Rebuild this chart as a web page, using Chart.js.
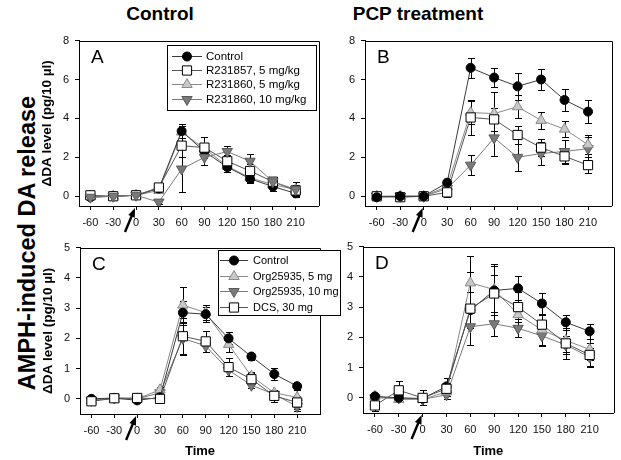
<!DOCTYPE html>
<html>
<head>
<meta charset="utf-8">
<script src="https://cdn.jsdelivr.net/npm/chart.js"></script>
<style>
  body { margin: 0; background: #fff; }
  #fig { position: relative; width: 621px; height: 460px; overflow: hidden; background: #fff;
         font-family: "Liberation Sans", Arial, sans-serif; color: #000; }
  canvas { position: absolute; }
  .head { position: absolute; top: 3px; font-weight: bold; font-size: 19px; line-height: 22px;
          transform: translateX(-50%); white-space: nowrap; }
  #side { position: absolute; left: 27px; top: 243px; font-weight: bold; font-size: 23.5px;
          transform: translate(-50%, -50%) rotate(-90deg); white-space: nowrap; }
</style>
</head>
<body>
<div id="fig">
  <div class="head" style="left:160px">Control</div>
  <div class="head" style="left:418px">PCP treatment</div>
  <div id="side">AMPH-induced DA release</div>
  <canvas id="chartD" width="298" height="226" style="left:323px;top:234px"></canvas>
  <canvas id="chartC" width="305" height="225" style="left:40px;top:235px"></canvas>
  <canvas id="chartA" width="287" height="210" style="left:39px;top:28px"></canvas>
  <canvas id="chartB" width="294" height="210" style="left:325px;top:28px"></canvas>
</div>
<script>
// sampling times (min)
const times = [-60, -30, 0, 30, 60, 90, 120, 150, 180, 210];
const yTicksTop = [0, 2, 4, 6, 8];
const yTicksBottom = [0, 1, 2, 3, 4, 5];

const labelsTop = ["Control", "R231857, 5 mg/kg", "R231860, 5 mg/kg", "R231860, 10 mg/kg"];
const labelsBottom = ["Control", "Org25935, 5 mg", "Org25935, 10 mg", "DCS, 30 mg"];

// panel A - control animals
const aCtrl = [-0.05, 0, 0.05, 0.4, 3.35, 2.3, 1.5, 0.9, 0.5, 0.15];
const aCtrlErr = [0.05, 0.05, 0.05, 0.1, 0.35, 0.2, 0.25, 0.2, 0.25, 0.1];
const aR57 = [0.05, 0, 0.05, 0.45, 2.6, 2.5, 1.8, 1.3, 0.75, 0.3];
const aR57Err = [0.05, 0.05, 0.05, 0.15, 0.6, 0.55, 0.3, 0.35, 0.25, 0.3];
const aR60 = [0, 0, 0.05, 0.3, 3.3, 2.45, 1.55, 0.95, 0.6, 0.35];
const aR60Err = [0.05, 0.05, 0.05, 0.1, 0.3, 0.3, 0.2, 0.2, 0.15, 0.15];
const aR10 = [-0.05, 0, 0.05, -0.3, 1.4, 2.0, 2.3, 1.8, 0.75, 0.35];
const aR10Err = [0.05, 0.05, 0.05, 0.1, 1.2, 0.4, 0.3, 0.35, 0.2, 0.4];

// panel B - PCP treated
const bCtrl = [-0.05, 0, 0, 0.7, 6.6, 6.1, 5.65, 6.0, 4.95, 4.35];
const bCtrlErr = [0.05, 0.05, 0.05, 0.1, 0.5, 0.5, 0.7, 0.55, 0.55, 0.6];
const bR57 = [0, -0.05, 0, 0.2, 4.05, 3.95, 3.15, 2.5, 2.05, 1.6];
const bR57Err = [0.05, 0.05, 0.05, 0.25, 0.9, 0.6, 0.45, 0.45, 0.4, 0.4];
const bR60 = [0, 0, 0, 0.5, 4.3, 4.25, 4.6, 3.9, 3.45, 2.65];
const bR60Err = [0.05, 0.05, 0.05, 0.15, 0.6, 1.1, 0.6, 0.45, 0.4, 0.5];
const bR10 = [0, 0, 0, 0.4, 1.6, 3.0, 2.0, 2.2, 2.3, 2.45];
const bR10Err = [0.05, 0.05, 0.05, 0.15, 0.5, 0.95, 0.7, 0.6, 0.6, 0.6];

// panel C - control animals
const cCtrl = [0, 0.03, -0.05, 0.05, 2.85, 2.8, 2.0, 1.4, 0.82, 0.42];
const cCtrlErr = [0.05, 0.05, 0.05, 0.05, 0.4, 0.25, 0.2, 0.1, 0.2, 0.1];
const cOrg5 = [-0.05, 0, 0, 0.3, 3.1, 2.85, 1.8, 0.75, 0.2, 0.05];
const cOrg5Err = [0.05, 0.05, 0.05, 0.1, 0.6, 0.25, 0.25, 0.15, 0.1, 0.25];
const cOrg10 = [-0.05, 0.03, 0, 0.2, 2.0, 1.75, 0.95, 0.45, 0.15, -0.25];
const cOrg10Err = [0.05, 0.05, 0.05, 0.1, 0.55, 0.2, 0.2, 0.1, 0.1, 0.15];
const cDcs = [-0.08, 0.02, 0.03, 0, 2.07, 1.9, 1.05, 0.65, 0.1, -0.12];
const cDcsErr = [0.05, 0.05, 0.05, 0.05, 0.6, 0.35, 0.3, 0.2, 0.2, 0.2];

// panel D - PCP treated
const dCtrl = [0.05, 0, -0.02, 0.38, 2.9, 3.55, 3.62, 3.12, 2.5, 2.2];
const dCtrlErr = [0.05, 0.05, 0.05, 0.1, 0.6, 0.8, 0.4, 0.35, 0.25, 0.25];
const dOrg5 = [0.05, -0.05, -0.05, 0.2, 3.8, 3.58, 2.75, 2.25, 1.9, 1.6];
const dOrg5Err = [0.05, 0.05, 0.05, 0.15, 0.9, 0.85, 0.4, 0.5, 0.4, 0.35];
const dOrg10 = [0, 0, -0.05, 0.1, 2.35, 2.45, 2.3, 2.05, 1.75, 1.35];
const dOrg10Err = [0.05, 0.05, 0.05, 0.15, 0.6, 0.4, 0.3, 0.35, 0.3, 0.3];
const dDcs = [-0.25, 0.25, 0, 0.3, 2.95, 3.45, 3.0, 2.42, 1.8, 1.42];
const dDcsErr = [0.2, 0.3, 0.25, 0.35, 1.2, 0.6, 0.5, 0.7, 0.5, 0.4];

// marker looks
const looks = {
  circle: { pointStyle: "circle", pointRadius: 4.5, pointBackgroundColor: "#000", pointBorderColor: "#000", borderColor: "#3a3a3a" },
  square: { pointStyle: "rect", pointRadius: 6.5, pointBackgroundColor: "#fff", pointBorderColor: "#000", borderColor: "#555" },
  up: { pointStyle: "triangle", pointRadius: 6, pointBackgroundColor: "#c8c8c8", pointBorderColor: "#8a8a8a", borderColor: "#8a8a8a" },
  down: { pointStyle: "triangle", pointRotation: 180, pointRadius: 6, pointBackgroundColor: "#7a7a7a", pointBorderColor: "#5a5a5a", borderColor: "#7a7a7a" }
};

function series(label, vals, errs, look, order) {
  return Object.assign({
    label: label,
    data: times.map((t, i) => ({ x: t, y: vals[i] })),
    errors: errs,
    borderWidth: 1,
    pointBorderWidth: 1,
    pointHoverRadius: 6,
    tension: 0,
    fill: false,
    order: order
  }, looks[look]);
}

// error bars drawn behind the lines
const errorBars = {
  id: "errorBars",
  beforeDatasetsDraw(chart) {
    const ctx = chart.ctx, xs = chart.scales.x, ys = chart.scales.y;
    ctx.save();
    ctx.strokeStyle = "#000";
    ctx.lineWidth = 1;
    chart.data.datasets.forEach(ds => {
      ds.data.forEach((p, i) => {
        const e = ds.errors[i];
        if (!e) return;
        const px = Math.round(xs.getPixelForValue(p.x)) + 0.5;
        const y1 = Math.round(ys.getPixelForValue(p.y + e)) + 0.5;
        const y2 = Math.round(ys.getPixelForValue(p.y - e)) + 0.5;
        ctx.beginPath();
        ctx.moveTo(px, y1); ctx.lineTo(px, y2);
        ctx.moveTo(px - 3.5, y1); ctx.lineTo(px + 3.5, y1);
        ctx.moveTo(px - 3.5, y2); ctx.lineTo(px + 3.5, y2);
        ctx.stroke();
      });
    });
    ctx.restore();
  }
};

// top + right frame lines, panel letter and the injection arrow under time 0
const frameArrow = {
  id: "frameArrow",
  afterDraw(chart, args, o) {
    const ctx = chart.ctx, ca = chart.chartArea;
    ctx.save();
    ctx.strokeStyle = "#000";
    ctx.lineWidth = 1;
    ctx.beginPath();
    ctx.moveTo(Math.round(ca.left), Math.round(ca.top) + 0.5);
    ctx.lineTo(Math.round(ca.right) + 0.5, Math.round(ca.top) + 0.5);
    ctx.lineTo(Math.round(ca.right) + 0.5, Math.round(ca.bottom));
    ctx.stroke();

    ctx.fillStyle = "#000";
    ctx.font = "19px 'Liberation Sans'";
    ctx.textBaseline = "top";
    ctx.textAlign = "left";
    ctx.fillText(o.letter || "", ca.left + 12, ca.top + 8);

    const x0 = chart.scales.x.getPixelForValue(0);
    const tipX = x0 - 1, tipY = ca.bottom + 2;
    const tailX = x0 - 11, tailY = ca.bottom + 26;
    const ang = Math.atan2(tipY - tailY, tipX - tailX);
    ctx.lineWidth = 2.4;
    ctx.beginPath();
    ctx.moveTo(tailX, tailY);
    ctx.lineTo(tipX - 6 * Math.cos(ang), tipY - 6 * Math.sin(ang));
    ctx.stroke();
    ctx.beginPath();
    ctx.moveTo(tipX, tipY);
    ctx.lineTo(tipX - 9 * Math.cos(ang) + 3.5 * Math.sin(ang), tipY - 9 * Math.sin(ang) - 3.5 * Math.cos(ang));
    ctx.lineTo(tipX - 9 * Math.cos(ang) - 3.5 * Math.sin(ang), tipY - 9 * Math.sin(ang) + 3.5 * Math.cos(ang));
    ctx.closePath();
    ctx.fill();
    ctx.restore();
  }
};

// boxed legend with line + marker samples
const boxLegend = {
  id: "boxLegend",
  afterDraw(chart, args, o) {
    if (!o || !o.show) return;
    const ctx = chart.ctx, ca = chart.chartArea;
    const x = Math.round(o.fromRight ? ca.right - o.dx : ca.left + o.dx);
    const y = Math.round(ca.top + o.dy);
    ctx.save();
    ctx.fillStyle = "#fff";
    ctx.fillRect(x, y, o.w, o.h);
    ctx.strokeStyle = "#000";
    ctx.lineWidth = 1;
    ctx.strokeRect(x + 0.5, y + 0.5, o.w, o.h);
    chart.data.datasets.forEach((ds, k) => {
      const ry = Math.round(y + o.first + k * o.step) + 0.5;
      ctx.strokeStyle = ds.borderColor;
      ctx.lineWidth = 1;
      ctx.beginPath();
      ctx.moveTo(x + o.l0, ry);
      ctx.lineTo(x + o.l1, ry);
      ctx.stroke();
      ctx.fillStyle = ds.pointBackgroundColor;
      ctx.strokeStyle = ds.pointBorderColor;
      Chart.helpers.drawPoint(ctx, {
        pointStyle: ds.pointStyle, rotation: ds.pointRotation || 0,
        radius: ds.pointRadius, borderWidth: 1
      }, x + (o.l0 + o.l1) / 2, ry);
      ctx.fillStyle = "#000";
      ctx.font = o.font;
      ctx.textAlign = "left";
      ctx.textBaseline = "middle";
      ctx.fillText(ds.label, x + o.tx, ry);
    });
    ctx.restore();
  }
};

function makeChart(id, datasets, yMax, yTicks, p) {
  const yTitle = p.yTitle ? {
    display: true, text: "\u0394DA level (pg/10 \u00b5l)", color: "#000",
    font: { family: "Liberation Sans", size: 13.5, weight: "bold" }, padding: { top: 0, bottom: 0 }
  } : { display: false };
  const xTitle = p.xTitle ? {
    display: true, text: "Time", color: "#000",
    font: { family: "Liberation Sans", size: 13, weight: "bold" }, padding: { top: 0, bottom: 1 }
  } : { display: false };
  return new Chart(document.getElementById(id), {
    type: "line",
    data: { datasets: datasets },
    plugins: [errorBars, frameArrow, boxLegend],
    options: {
      responsive: false,
      animation: false,
      layout: { padding: { left: 0, top: 12, right: p.padRight, bottom: 0 } },
      plugins: {
        legend: { display: false },
        tooltip: { enabled: false },
        frameArrow: { letter: p.letter },
        boxLegend: p.legend || { show: false }
      },
      scales: {
        x: {
          type: "linear", min: -75, max: 240,
          afterBuildTicks: s => { s.ticks = times.map(v => ({ value: v })); },
          afterFit: s => { s.height = p.xHeight; },
          grid: { drawOnChartArea: false, drawTicks: true, tickLength: 4, color: "#000" },
          border: { color: "#000", width: 1 },
          ticks: { autoSkip: false, maxRotation: 0, padding: 6, color: "#111",
                   font: { family: "Liberation Sans", size: 11 } },
          title: xTitle
        },
        y: {
          min: -0.5, max: yMax,
          afterBuildTicks: s => { s.ticks = yTicks.map(v => ({ value: v })); },
          afterFit: s => { s.width = 40; },
          grid: { drawOnChartArea: false, drawTicks: true, tickLength: 4, color: "#000" },
          border: { color: "#000", width: 1 },
          ticks: { padding: 6, color: "#111", font: { family: "Liberation Sans", size: 11 } },
          title: yTitle
        }
      }
    }
  });
}

const legendTop = { show: true, fromRight: true, dx: 152, dy: 4, w: 149, h: 65, first: 11, step: 14.2, l0: 5, l1: 35, tx: 39, font: "11.5px 'Liberation Sans'" };
const legendBottom = { show: true, fromRight: false, dx: 138, dy: 2, w: 122, h: 65, first: 10, step: 15.5, l0: 2, l1: 30, tx: 35, font: "11px 'Liberation Sans'" };

makeChart("chartA", [
  series(labelsTop[0], aCtrl, aCtrlErr, "circle", 2),
  series(labelsTop[1], aR57, aR57Err, "square", 1),
  series(labelsTop[2], aR60, aR60Err, "up", 3),
  series(labelsTop[3], aR10, aR10Err, "down", 0)
], 8, yTicksTop, { letter: "A", yTitle: true, xTitle: false, padRight: 6, xHeight: 32, legend: legendTop });

makeChart("chartB", [
  series(labelsTop[0], bCtrl, bCtrlErr, "circle", 0),
  series(labelsTop[1], bR57, bR57Err, "square", 1),
  series(labelsTop[2], bR60, bR60Err, "up", 2),
  series(labelsTop[3], bR10, bR10Err, "down", 3)
], 8, yTicksTop, { letter: "B", yTitle: false, xTitle: false, padRight: 6, xHeight: 32 });

makeChart("chartC", [
  series(labelsBottom[0], cCtrl, cCtrlErr, "circle", 1),
  series(labelsBottom[1], cOrg5, cOrg5Err, "up", 2),
  series(labelsBottom[2], cOrg10, cOrg10Err, "down", 3),
  series(labelsBottom[3], cDcs, cDcsErr, "square", 0)
], 5, yTicksBottom, { letter: "C", yTitle: true, xTitle: true, padRight: 25, xHeight: 46, legend: legendBottom });

makeChart("chartD", [
  series(labelsBottom[0], dCtrl, dCtrlErr, "circle", 1),
  series(labelsBottom[1], dOrg5, dOrg5Err, "up", 2),
  series(labelsBottom[2], dOrg10, dOrg10Err, "down", 3),
  series(labelsBottom[3], dDcs, dDcsErr, "square", 0)
], 5, yTicksBottom, { letter: "D", yTitle: false, xTitle: true, padRight: 7, xHeight: 47 });
</script>
</body>
</html>
